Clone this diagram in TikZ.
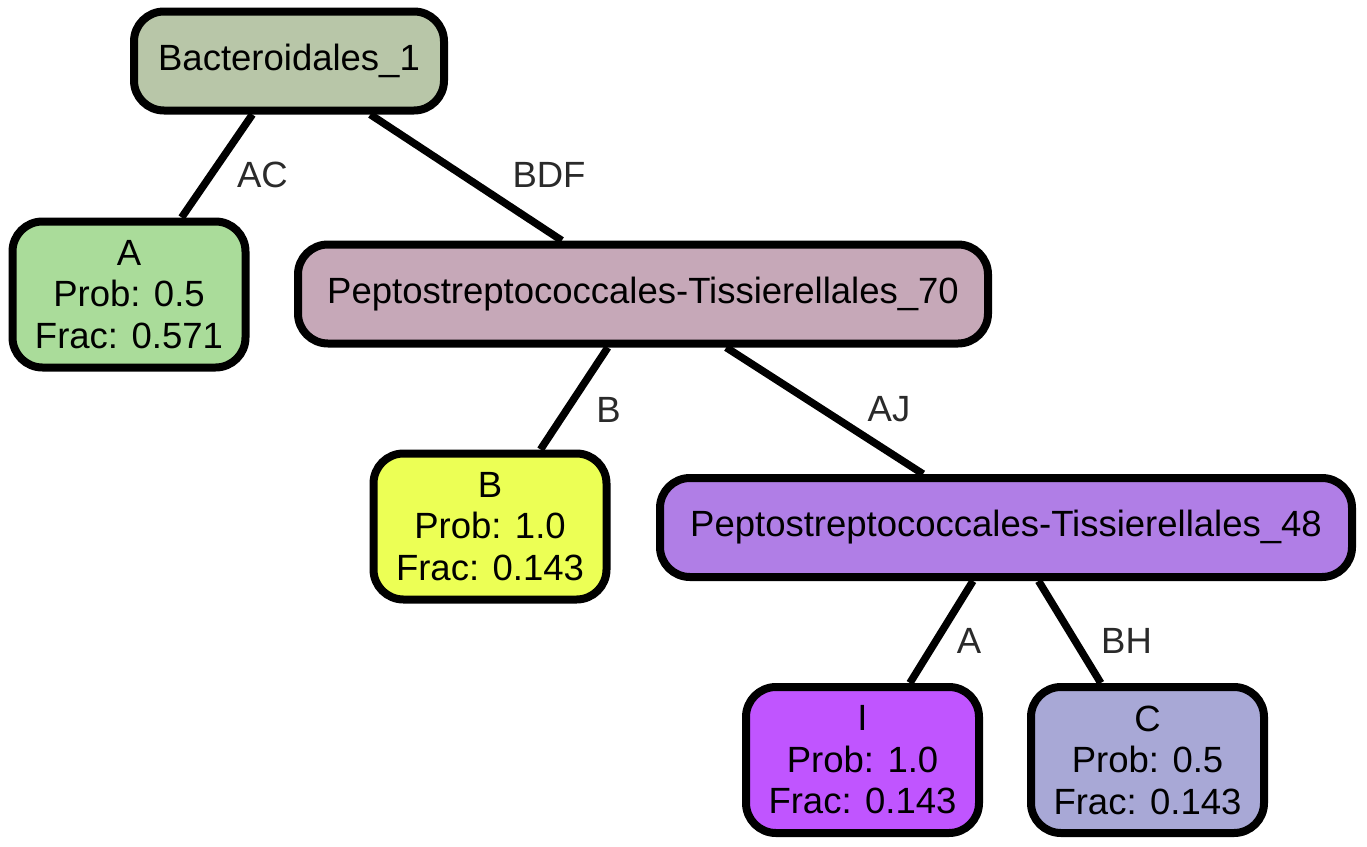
\documentclass[tikz,border=0pt]{standalone}
\usepackage{fontspec}
\setmainfont{Liberation Sans}
\usetikzlibrary{backgrounds}
\definecolor{cBac}{HTML}{B8C6A8}
\definecolor{cA}{HTML}{AADC9A}
\definecolor{cP70}{HTML}{C6A8B8}
\definecolor{cB}{HTML}{ECFF55}
\definecolor{cP48}{HTML}{B07EE6}
\definecolor{cI}{HTML}{C055FF}
\definecolor{cC}{HTML}{A8A8D6}
\definecolor{labgray}{HTML}{2A2A2A}
\newcommand{\dfont}{\fontsize{36.5}{41.5}\selectfont}
\tikzset{
  box/.style={draw=black, line width=8pt, rounded corners=30pt, align=center,
    inner sep=0pt, font=\dfont},
  leaf/.style={box, minimum width=233pt, minimum height=146pt},
  inner/.style={box, minimum height=99pt},
  edge/.style={line width=7.5pt, draw=black},
  elab/.style={text=labgray, inner sep=0pt, font=\dfont}
}
\begin{document}
\begin{tikzpicture}[x=1pt, y=-1pt]
\useasboundingbox (0,0) rectangle (1367,846);
\node[inner, fill=cBac, minimum width=310pt] (bac) at (289,61) {Bacteroidales\_1};
\node[leaf, fill=cA] (A) at (129,294.5) {A\\Prob: 0.5\\Frac: 0.571};
\node[inner, fill=cP70, minimum width=690pt] (p70) at (643,294) {Peptostreptococcales-Tissierellales\_70};
\node[leaf, fill=cB] (B) at (490,526.5) {B\\Prob: 1.0\\Frac: 0.143};
\node[inner, fill=cP48, minimum width=692pt] (p48) at (1006,527.5) {Peptostreptococcales-Tissierellales\_48};
\node[leaf, fill=cI] (I) at (862.5,760) {I\\Prob: 1.0\\Frac: 0.143};
\node[leaf, fill=cC] (C) at (1147.5,760) {C\\Prob: 0.5\\Frac: 0.143};
\begin{pgfonlayer}{background}
\draw[edge] (bac) -- (A);
\draw[edge] (bac) -- (p70);
\draw[edge] (p70) -- (B);
\draw[edge] (p70) -- (p48);
\draw[edge] (p48) -- (I);
\draw[edge] (p48) -- (C);
\end{pgfonlayer}
\node[elab] (lAC) at (262.5,174.5) {AC};
\node[elab] (lBDF) at (549,175) {BDF};
\node[elab] (lB) at (608.5,409.5) {B};
\node[elab] (lAJ) at (889,409.5) {AJ};
\node[elab] (lA) at (969,641) {A};
\node[elab] (lBH) at (1126.5,641) {BH};
\end{tikzpicture}
\end{document}
